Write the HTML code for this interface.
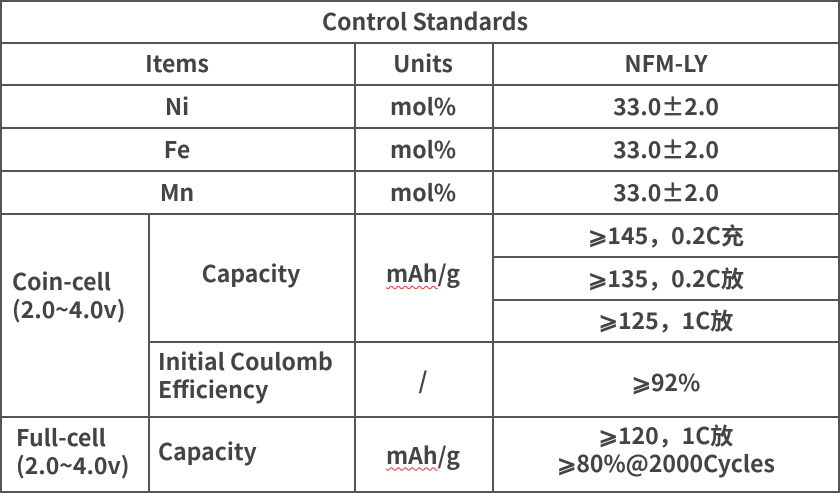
<!DOCTYPE html>
<html><head><meta charset="utf-8"><style>
html,body{margin:0;padding:0;background:#fff;}
#c{position:relative;width:840px;height:493px;overflow:hidden;font-family:"Noto Sans CJK SC","Liberation Sans",sans-serif;color:#444;font-size:23px;font-weight:bold;}
.h{position:absolute;height:2px;background:#555;}
.v{position:absolute;width:2px;background:#555;}
.t{position:absolute;display:flex;align-items:center;justify-content:center;text-align:center;line-height:28px;white-space:nowrap;}
.l{justify-content:flex-start;text-align:left;}
.sq{text-decoration:underline wavy #d33 1px;text-underline-offset:3px;}
</style></head><body><div id="c">
<div class="h" style="left:0;top:0;width:840px"></div>
<div class="h" style="left:0;top:42px;width:840px"></div>
<div class="h" style="left:0;top:84px;width:840px"></div>
<div class="h" style="left:0;top:127px;width:840px"></div>
<div class="h" style="left:0;top:170px;width:840px"></div>
<div class="h" style="left:0;top:213px;width:840px"></div>
<div class="h" style="left:492px;top:256px;width:348px"></div>
<div class="h" style="left:492px;top:299px;width:348px"></div>
<div class="h" style="left:148px;top:341px;width:692px"></div>
<div class="h" style="left:0;top:416px;width:840px"></div>
<div class="h" style="left:0;top:491px;width:840px"></div>
<div class="v" style="left:0;top:0;height:493px"></div>
<div class="v" style="left:838px;top:0;height:493px"></div>
<div class="v" style="left:354px;top:42px;height:451px"></div>
<div class="v" style="left:492px;top:42px;height:451px"></div>
<div class="v" style="left:148px;top:213px;height:280px"></div>

<div class="t" style="left:0;top:0;width:850px;height:40px">Control Standards</div>
<div class="t" style="left:0;top:42px;width:354px;height:40px">Items</div>
<div class="t" style="left:354px;top:42px;width:138px;height:40px">Units</div>
<div class="t" style="left:492px;top:42px;width:348px;height:40px">NFM-LY</div>
<div class="t" style="left:0;top:84px;width:354px;height:41px">Ni</div>
<div class="t" style="left:354px;top:84px;width:138px;height:41px">mol%</div>
<div class="t" style="left:492px;top:84px;width:348px;height:41px">33.0±2.0</div>
<div class="t" style="left:0;top:127px;width:354px;height:41px">Fe</div>
<div class="t" style="left:354px;top:127px;width:138px;height:41px">mol%</div>
<div class="t" style="left:492px;top:127px;width:348px;height:41px">33.0±2.0</div>
<div class="t" style="left:0;top:170px;width:354px;height:41px">Mn</div>
<div class="t" style="left:354px;top:170px;width:138px;height:41px">mol%</div>
<div class="t" style="left:492px;top:170px;width:348px;height:41px">33.0±2.0</div>

<div class="t l" style="left:12px;top:266px;height:60px;display:block;">Coin-cell<br>(2.0~4.0v)</div>
<div class="t" style="left:148px;top:213px;width:206px;height:118px">Capacity</div>
<div class="t" style="left:354px;top:213px;width:138px;height:118px"><span class="sq">mAh</span>/g</div>
<div class="t" style="left:492px;top:213px;width:348px;height:41px">⩾145，0.2C充</div>
<div class="t" style="left:492px;top:256px;width:348px;height:41px">⩾135，0.2C放</div>
<div class="t" style="left:492px;top:299px;width:348px;height:40px">⩾125，1C放</div>
<div class="t l" style="left:158px;top:346px;height:60px;display:block;">Initial Coulomb<br>Efficiency</div>
<div class="t" style="left:354px;top:341px;width:138px;height:75px">/</div>
<div class="t" style="left:492px;top:341px;width:348px;height:80px">⩾92%</div>

<div class="t l" style="left:16px;top:422px;height:60px;display:block;">Full-cell<br>(2.0~4.0v)</div>
<div class="t l" style="left:158px;top:416px;height:68px">Capacity</div>
<div class="t" style="left:354px;top:416px;width:138px;height:75px"><span class="sq">mAh</span>/g</div>
<div class="t" style="left:492px;top:420px;width:348px;height:60px;display:block;">⩾120，1C放<br>⩾80%@2000Cycles</div>
</div></body></html>
